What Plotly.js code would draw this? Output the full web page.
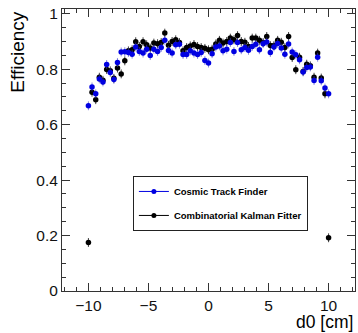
<!DOCTYPE html>
<html>
<head>
<meta charset="utf-8">
<script src="https://cdn.plot.ly/plotly-3.0.1.min.js"></script>
<style>html,body{margin:0;padding:0;background:#fff}</style>
</head>
<body>
<div id="chart" style="width:358px;height:333px"></div>
<script>
// d0 bin centres [cm]
const d0 = [-10, -9.70, -9.39, -9.09, -8.79, -8.48, -8.18, -7.88, -7.58, -7.27,
  -6.97, -6.67, -6.36, -6.06, -5.76, -5.45, -5.15, -4.85, -4.55, -4.24,
  -3.94, -3.64, -3.33, -3.03, -2.73, -2.42, -2.12, -1.82, -1.52, -1.21,
  -0.91, -0.61, -0.30, 0, 0.30, 0.61, 0.91, 1.21, 1.52, 1.82,
  2.12, 2.42, 2.73, 3.03, 3.33, 3.64, 3.94, 4.24, 4.55, 4.85,
  5.15, 5.45, 5.76, 6.06, 6.36, 6.67, 6.97, 7.27, 7.58, 7.88,
  8.18, 8.48, 8.79, 9.09, 9.39, 9.70, 10];

// Cosmic Track Finder efficiency
const cosmicEff = [0.668, 0.736, 0.711, 0.765, 0.754, 0.817, 0.788, 0.763, 0.824, 0.862,
  0.863, 0.860, 0.854, 0.880, 0.864, 0.858, 0.872, 0.849, 0.872, 0.864,
  0.878, 0.904, 0.867, 0.858, 0.888, 0.890, 0.853, 0.853, 0.866, 0.858,
  0.853, 0.860, 0.831, 0.822, 0.856, 0.880, 0.884, 0.866, 0.872, 0.896,
  0.864, 0.896, 0.870, 0.878, 0.868, 0.882, 0.890, 0.870, 0.892, 0.898,
  0.860, 0.880, 0.893, 0.876, 0.854, 0.891, 0.862, 0.852, 0.834, 0.790,
  0.806, 0.808, 0.759, 0.843, 0.758, 0.732, 0.711];

// Combinatorial Kalman Fitter efficiency
const ckfEff = [0.175, 0.717, 0.690, 0.771, 0.760, 0.799, 0.794, 0.767, 0.804, 0.783,
  0.830, 0.866, 0.870, 0.899, 0.882, 0.899, 0.888, 0.876, 0.894, 0.892,
  0.896, 0.930, 0.886, 0.900, 0.906, 0.896, 0.866, 0.878, 0.884, 0.889,
  0.882, 0.878, 0.875, 0.870, 0.872, 0.891, 0.904, 0.894, 0.900, 0.912,
  0.906, 0.921, 0.900, 0.897, 0.882, 0.912, 0.912, 0.904, 0.896, 0.918,
  0.885, 0.885, 0.904, 0.897, 0.878, 0.918, 0.842, 0.798, 0.843, 0.792,
  0.818, 0.812, 0.771, 0.858, 0.768, 0.711, 0.192];

const effErr = 0.016;

const seriesNames = ['Cosmic Track Finder', 'Combinatorial Kalman Fitter'];
const blue = 'rgb(0,0,225)';
const black = 'rgb(0,0,0)';
const font = 'Liberation Sans, Arial, Helvetica, sans-serif';

const traces = [
  {x: d0, y: ckfEff, type: 'scatter', mode: 'markers', showlegend: false,
   marker: {color: black, size: 5.5},
   error_y: {type: 'constant', value: effErr, color: 'rgba(0,0,0,0.75)', thickness: 1, width: 0}},
  {x: d0, y: cosmicEff, type: 'scatter', mode: 'markers', showlegend: false,
   marker: {color: blue, size: 5.5},
   error_y: {type: 'constant', value: effErr, color: 'rgba(60,60,200,0.6)', thickness: 1, width: 0}},
  // legend entries (line + marker style)
  {x: [null], y: [null], type: 'scatter', mode: 'lines+markers', name: seriesNames[0],
   legendgroup: 'a', line: {color: blue, width: 1}, marker: {color: blue, size: 5}},
  {x: [null], y: [null], type: 'scatter', mode: 'lines+markers', name: seriesNames[1],
   legendgroup: 'b', line: {color: black, width: 1}, marker: {color: black, size: 5}}
];

const axisCommon = {
  showgrid: false, zeroline: false, showline: true, linecolor: '#333', linewidth: 1,
  mirror: 'ticks', ticks: 'inside', ticklen: 8, tickcolor: '#333', tickwidth: 1,
  tickfont: {family: font, size: 15.5, color: '#111'}
};

const layout = {
  width: 358, height: 333,
  margin: {l: 62, r: 3, t: 9, b: 42},
  paper_bgcolor: '#fff', plot_bgcolor: '#fff',
  xaxis: Object.assign({}, axisCommon, {
    range: [-12.2, 12.2], tick0: 0, dtick: 5, ticklabelstandoff: 0,
    minor: {dtick: 1, ticks: 'inside', ticklen: 4, tickcolor: '#333'}
  }),
  yaxis: Object.assign({}, axisCommon, {
    range: [0, 1.017], tick0: 0, dtick: 0.2,
    minor: {dtick: 0.05, ticks: 'inside', ticklen: 4, tickcolor: '#333'}
  }),
  legend: {
    x: 0.242, y: 0.408, xanchor: 'left', yanchor: 'top',
    bgcolor: '#fff', bordercolor: '#222', borderwidth: 1,
    font: {family: font, size: 9.5, color: '#000', weight: 'bold'},
    traceorder: 'grouped', tracegroupgap: 5, itemwidth: 30
  },
  annotations: [
    {text: 'Efficiency', xref: 'paper', yref: 'paper', x: -0.150, y: 0.996,
     xanchor: 'center', yanchor: 'top', textangle: -90, showarrow: false,
     font: {family: font, size: 19, color: '#000'}},
    {text: 'd0 [cm]', xref: 'paper', yref: 'paper', x: 1.0, y: -0.111,
     xanchor: 'right', yanchor: 'middle', showarrow: false,
     font: {family: font, size: 17.5, color: '#000'}}
  ]
};

Plotly.newPlot('chart', traces, layout, {displayModeBar: false, staticPlot: true});
</script>
</body>
</html>
